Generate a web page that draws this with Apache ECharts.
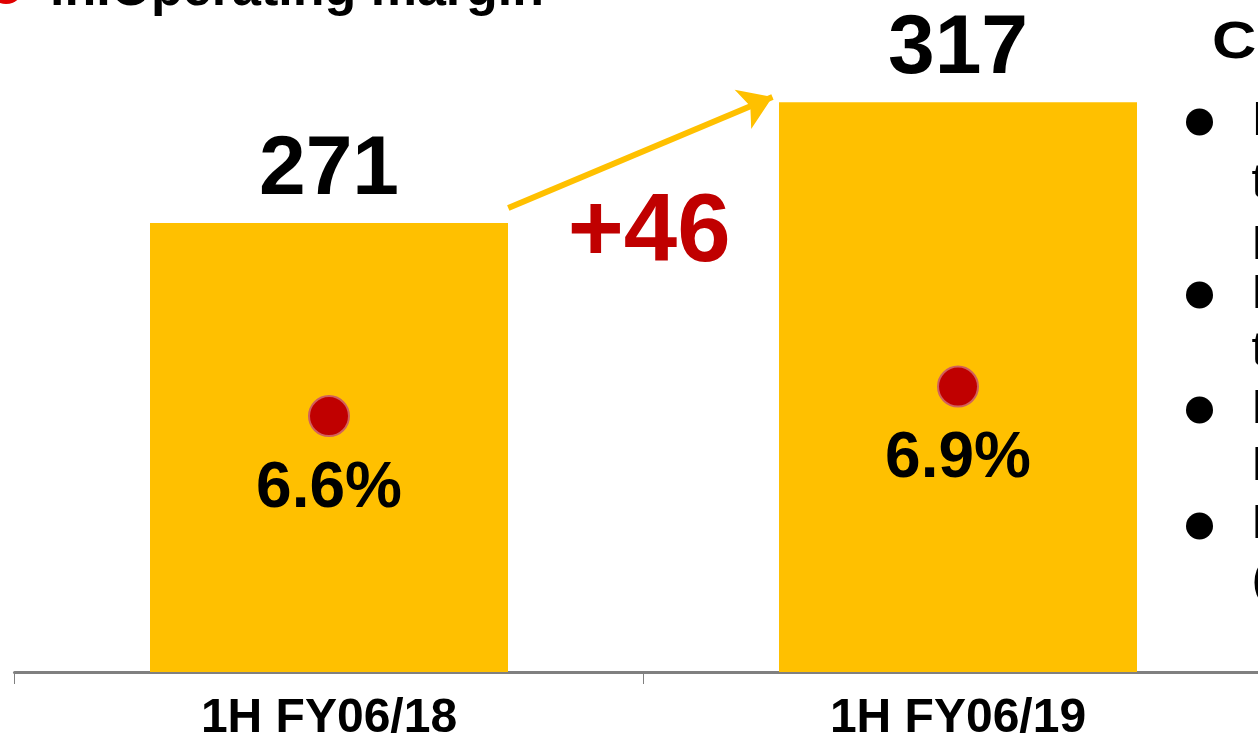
<!DOCTYPE html>
<html>
<head>
<meta charset="utf-8">
<script src="https://cdn.jsdelivr.net/npm/echarts@6/dist/echarts.min.js"></script>
<style>
  html, body { margin: 0; padding: 0; background: #fff; }
  #chart { width: 1258px; height: 736px; }
</style>
</head>
<body>
<div id="chart"></div>
<script>
// data
var categories = ['1H FY06/18', '1H FY06/19'];
var opIncome = [271, 317];          // operating income
var opMargin = [6.6, 6.9];          // operating margin, %
var arrowFrom = [0.285, 276.7];     // arrow from bar 1 to bar 2 (band units, income)
var arrowTo = [0.705, 319];
var deltaPos = [0.509, 266.5];
var titleText = 'in.Operating margin';
var sideHeading = 'Causes of change';
var sideLines = [
  'Increase in sales volume of',
  'the core products in the',
  'Domestic segment',
  'Reduction of cost ratio',
  'through efficiency gains',
  'Effect of price revision',
  'Lower SG&A expenses',
  'Profit from new business',
  '(Overseas segment)'
];
var sideLineY = [122, 184, 246, 295, 352, 410, 467, 525, 582];
var bulletY = [122, 295, 410, 526];

var FONT = '"Liberation Sans", Arial, sans-serif';
var YELLOW = '#FFC000';
var RED = '#C00000';

var chart = echarts.init(document.getElementById('chart'));

var graphics = [
  { type: 'circle', shape: { cx: 6, cy: -14, r: 18 }, style: { fill: '#E00000' } },
  {
    type: 'text', left: 50, top: -35,
    style: { text: titleText, font: 'bold 52px ' + FONT, fill: '#000' }
  },
  {
    type: 'text', x: 1212, y: 44, scaleX: 1.18,
    style: { text: sideHeading, font: 'bold 52px ' + FONT, fill: '#000', verticalAlign: 'middle' }
  }
];
bulletY.forEach(function (y) {
  graphics.push({ type: 'circle', shape: { cx: 1199.5, cy: y, r: 13.5 }, style: { fill: '#000' } });
});
sideLines.forEach(function (t, i) {
  graphics.push({
    type: 'text', x: 1251.5, y: sideLineY[i],
    style: { text: t, font: '48px ' + FONT, fill: '#000', verticalAlign: 'middle' }
  });
});

chart.setOption({
  animation: false,
  grid: { left: 14.5, top: 15.5, bottom: 64, width: 1258, outerBoundsMode: 'none', containLabel: false },
  graphic: graphics,
  xAxis: [
    {
      type: 'category',
      data: categories,
      axisLine: { lineStyle: { color: '#808080', width: 3 } },
      axisTick: { show: true, length: 12, lineStyle: { color: '#808080', width: 1 } },
      axisLabel: {
        color: '#000', fontSize: 48, fontWeight: 'bold', fontFamily: FONT, margin: 23
      }
    },
    { type: 'value', min: -0.5, max: 1.5, show: false }
  ],
  yAxis: [
    { type: 'value', min: 100, max: 350, show: false },
    { type: 'value', min: 4, max: 10.67, show: false }
  ],
  series: [
    {
      type: 'bar',
      data: opIncome,
      barWidth: 358,
      itemStyle: { color: YELLOW },
      label: {
        show: true, position: 'top', distance: 10,
        color: '#000', fontSize: 84, fontWeight: 'bold', fontFamily: FONT, lineHeight: 84
      },
      z: 2
    },
    {
      type: 'scatter',
      yAxisIndex: 1,
      data: opMargin,
      symbolSize: 40,
      itemStyle: { color: RED, borderColor: '#D0605C', borderWidth: 2, opacity: 1 },
      label: {
        show: true, position: 'bottom', distance: 20,
        formatter: function (p) { return p.value.toFixed(1) + '%'; },
        color: '#000', fontSize: 64, fontWeight: 'bold', fontFamily: FONT, lineHeight: 64
      },
      z: 5
    },
    {
      type: 'lines',
      coordinateSystem: 'cartesian2d',
      xAxisIndex: 1,
      yAxisIndex: 0,
      symbol: ['none', 'arrow'],
      symbolSize: [26, 32],
      lineStyle: { color: YELLOW, width: 6, opacity: 1 },
      data: [{ coords: [arrowFrom, arrowTo] }],
      z: 4
    },
    {
      type: 'scatter',
      xAxisIndex: 1,
      yAxisIndex: 0,
      data: [deltaPos],
      symbolSize: 0,
      itemStyle: { opacity: 1 },
      label: {
        show: true, position: 'inside',
        formatter: '+' + (opIncome[1] - opIncome[0]),
        color: RED, fontSize: 96, fontWeight: 'bold', fontFamily: FONT
      },
      z: 5
    }
  ]
});
</script>
</body>
</html>
